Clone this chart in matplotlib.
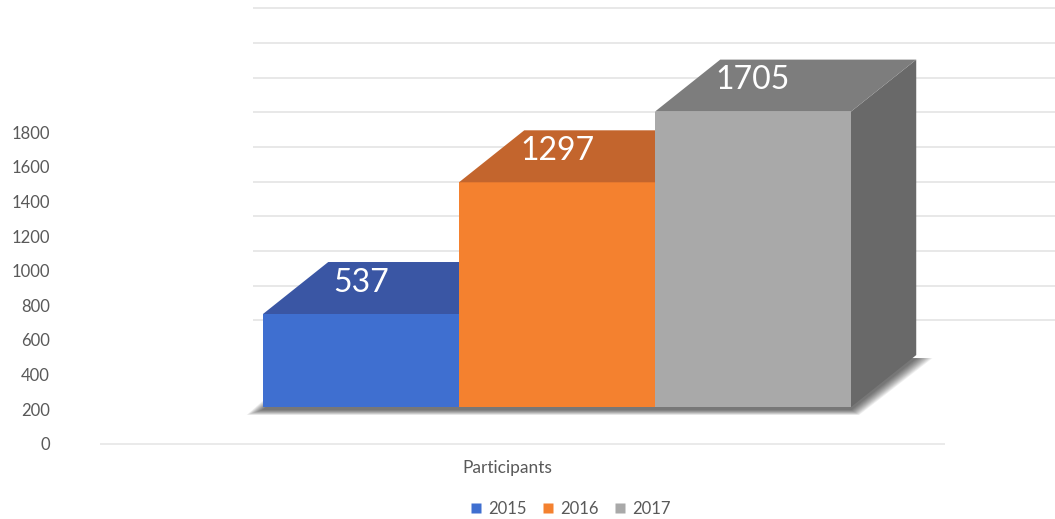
#!/usr/bin/env python3
"""
Participants per year, pseudo-3D column chart.
"""

import matplotlib
matplotlib.use('Agg')
import matplotlib.pyplot as plt
from matplotlib.patches import Polygon
from matplotlib.lines import Line2D

plt.rcParams['font.family'] = ['Lato', 'DejaVu Sans']

category = 'Participants'
years = ['2015', '2016', '2017']
values = [537, 1297, 1705]
y_ticks = [0, 200, 400, 600, 800, 1000, 1200, 1400, 1600, 1800]
grid_values = [200, 400, 600, 800, 1000, 1200, 1400, 1600, 1800, 2000]

front_col = ['#3F6FD0', '#F4812F', '#A9A9A9']
top_col = ['#3A56A4', '#C3652D', '#7D7D7D']
side_col = ['#2E4E96', '#B25A26', '#696969']

# fake perspective: depth offset in data units
dx, dy = 0.333, 300
base = 213
px_x, px_y = 1 / 196, 5.77   # data units per pixel

fig = plt.figure(figsize=(10.55, 5.19), dpi=100)
ax = fig.add_axes([57 / 1055, 0, 1 - 57 / 1055, 1])
ax.set_xlim(-1.551, 3.541)
ax.set_ylim(-433, 2562)

# back wall gridlines and floor edge
ax.hlines([base + dy + g for g in grid_values], -0.55, 3.541,
          color='#E4E4E4', lw=1.2, zorder=1)
ax.hlines(0, -1.33, 2.98, color='#E6E6E6', lw=1.2, zorder=1)

# soft shadow under the row of bars (stacked translucent layers)
n = len(values)
for k in range(12):
    ex = (1 + k * 1.4) * px_x
    ey = (k * 0.45) * px_y
    off = 3 * px_y
    shadow = Polygon([(-0.5 - ex, base - off - ey),
                      (n - 0.5 + ex * 0.5, base - off - ey),
                      (n - 0.5 + dx + ex, base + dy - off),
                      (-0.5 + dx - ex, base + dy - off)],
                     closed=True, facecolor='black', edgecolor='none',
                     alpha=0.06, zorder=2)
    ax.add_patch(shadow)

for i, v in enumerate(values):
    x0, x1 = i - 0.5, i + 0.5
    top = base + v
    front = Polygon([(x0, base), (x1, base), (x1, top), (x0, top)],
                    facecolor=front_col[i], edgecolor='none', zorder=3 + i)
    lid = Polygon([(x0, top), (x1, top), (x1 + dx, top + dy), (x0 + dx, top + dy)],
                  facecolor=top_col[i], edgecolor='none', zorder=3 + i)
    side = Polygon([(x1, base), (x1 + dx, base + dy), (x1 + dx, top + dy), (x1, top)],
                   facecolor=side_col[i], edgecolor='none', zorder=3 + i)
    for p in (side, front, lid):
        ax.add_patch(p)
    ax.text(i, top + dy * 0.6, f'{v}', color='white', fontsize=23,
            ha='center', va='center', zorder=10)

ax.set_yticks(y_ticks)
ax.set_yticklabels([str(t) for t in y_ticks])
ax.set_xticks([])
ax.tick_params(axis='y', length=0, pad=5, labelsize=12, labelcolor='#595959')
for s in ax.spines.values():
    s.set_visible(False)
ax.set_facecolor('none')

fig.text(507 / 1055, 1 - 468 / 519, category, ha='center', va='center',
         fontsize=12.5, color='#595959')

handles = [Line2D([], [], marker='s', ls='none', markersize=6.5,
                  markerfacecolor=c, markeredgecolor='none') for c in front_col]
fig.legend(handles, years, loc='center', bbox_to_anchor=(570 / 1055, 1 - 509 / 519),
           ncol=3, frameon=False, fontsize=12, labelcolor='#595959',
           handletextpad=0.3, columnspacing=0.9, handlelength=0.8)

plt.savefig('out.png', dpi=100)
print('done')
